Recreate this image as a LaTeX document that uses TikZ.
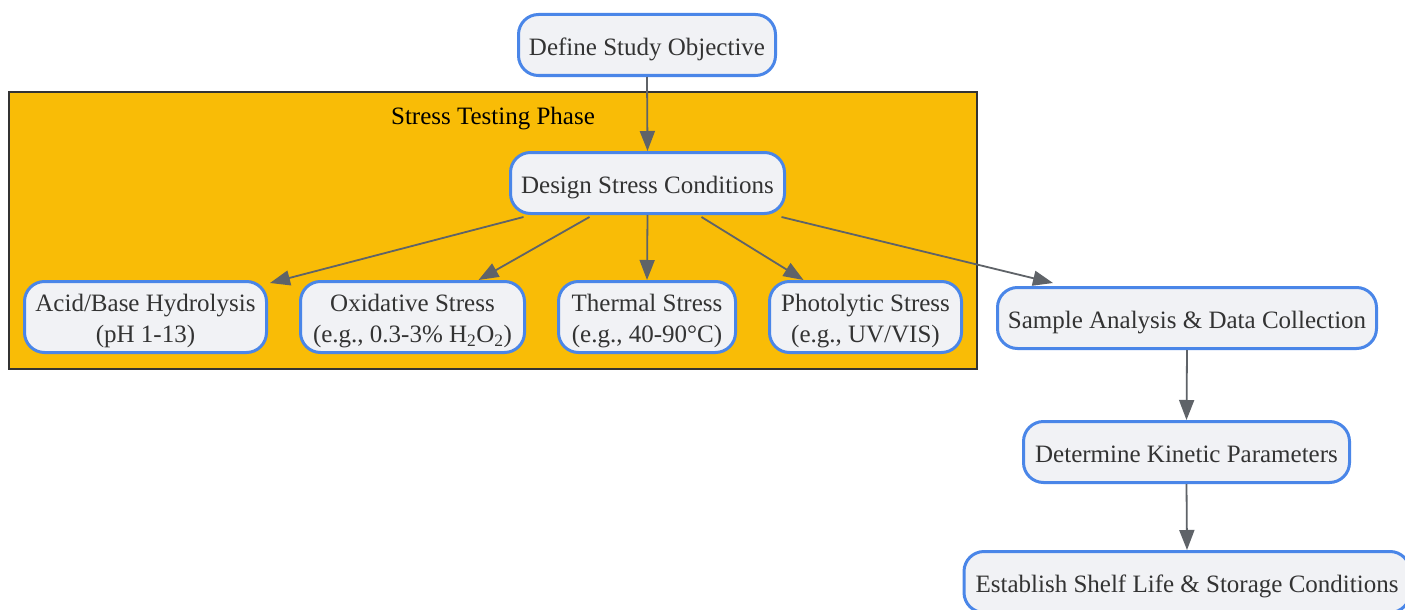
\documentclass[tikz,border=0pt]{standalone}
\usepackage{fontspec}
\setmainfont{Liberation Serif}
\usetikzlibrary{arrows.meta,calc}
\definecolor{nodeblue}{HTML}{4A86E8}
\definecolor{nodefill}{HTML}{F1F2F5}
\definecolor{clusterfill}{HTML}{F9BC06}
\definecolor{clusterline}{HTML}{333333}
\definecolor{txt}{HTML}{333333}
\definecolor{edgegray}{HTML}{5F6368}
\newcommand{\nodetext}[1]{\raisebox{-4pt}[\height][\depth]{\begin{tabular}{@{}c@{}}#1\end{tabular}}}
\tikzset{
  box/.style={draw=nodeblue, line width=3pt, fill=nodefill, rounded corners=20pt,
    align=center, text=txt, inner sep=0pt, font=\fontsize{25}{31}\selectfont},
  edge/.style={draw=edgegray, line width=1.8pt, -{Triangle[length=20pt,width=15pt]}},
}
\begin{document}
\begin{tikzpicture}[x=1pt,y=-1pt]
\useasboundingbox (0,0) rectangle (1405,610);
\fill[white] (0,0) rectangle (1405,610);
% cluster
\draw[fill=clusterfill, draw=clusterline, line width=1.5pt] (9,92) rectangle (977,369);
\node[font=\fontsize{25}{31}\selectfont, text=black] (title) at (493,119) {Stress Testing Phase};
% nodes
\node[box, minimum width=257pt, minimum height=61pt] (define) at (647,45) {\nodetext{Define Study Objective}};
\node[box, minimum width=274pt, minimum height=61pt] (design) at (647.5,183) {\nodetext{Design Stress Conditions}};
\node[box, minimum width=242pt, minimum height=71pt] (acid) at (145.5,317) {\nodetext{Acid/Base Hydrolysis\\(pH 1-13)}};
\node[box, minimum width=224pt, minimum height=71pt] (oxid) at (412.5,317) {\nodetext{Oxidative Stress\\(e.g., 0.3-3\% H\textsubscript{2}O\textsubscript{2})}};
\node[box, minimum width=177pt, minimum height=71pt] (thermal) at (647,317) {\nodetext{Thermal Stress\\(e.g., 40-90°C)}};
\node[box, minimum width=192pt, minimum height=71pt] (photo) at (865.5,317) {\nodetext{Photolytic Stress\\(e.g., UV/VIS)}};
\node[box, minimum width=379pt, minimum height=61pt] (sample) at (1187,318) {\nodetext{Sample Analysis \& Data Collection}};
\node[box, minimum width=326pt, minimum height=61pt] (kinetic) at (1186.5,452) {\nodetext{Determine Kinetic Parameters}};
\node[box, minimum width=446pt, minimum height=61pt] (establish) at (1187,582) {\nodetext{Establish Shelf Life \& Storage Conditions}};
% edges
\draw[edge] (define.south) -- (design.north);
\draw[edge] ($(design.south)+(-124,2)$) -- ($(acid.north east)+(2,3)$);
\draw[edge] ($(design.south)+(-58,2)$) -- ($(oxid.north)+(66,0)$);
\draw[edge] (design.south) -- (thermal.north);
\draw[edge] ($(design.south)+(54,2)$) -- ($(photo.north)+(-62,0)$);
\draw[edge] ($(design.south)+(134,2)$) -- ($(sample.north)+(-134,-3)$);
\draw[edge] (sample.south) -- (kinetic.north);
\draw[edge] (kinetic.south) -- (establish.north);
\end{tikzpicture}
\end{document}
